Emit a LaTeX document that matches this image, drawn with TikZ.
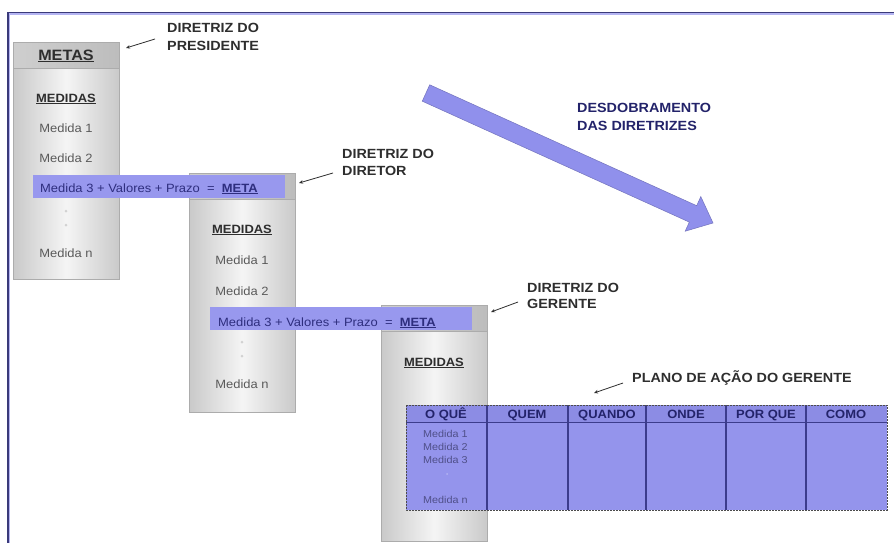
\documentclass[tikz,border=0pt]{standalone}
\usepackage{fontspec}
\setmainfont[FakeStretch=1.08]{Liberation Sans}
\usetikzlibrary{arrows.meta}
\definecolor{frameblue}{HTML}{3A3A7A}
\definecolor{framelight}{HTML}{B4B4F2}
\definecolor{lav}{HTML}{9898EE}
\definecolor{lavhead}{HTML}{8C8CE4}
\definecolor{tabfill}{HTML}{9494EC}
\definecolor{navy}{HTML}{23236A}
\definecolor{colline}{HTML}{3C3C8C}
\definecolor{lbltext}{HTML}{2E2E2E}
\definecolor{boxtext}{HTML}{5A5A5A}
\definecolor{bartext}{HTML}{2E2E7E}
\definecolor{bigarrow}{HTML}{9090EC}
\begin{document}
\begin{tikzpicture}[x=1pt,y=-1pt,
  boxbody/.style={draw=gray!65, line width=0.8pt, left color=gray!42, right color=gray!42, middle color=gray!8, inner sep=0pt, anchor=north west, minimum width=106pt},
  boxhead/.style={draw=gray!65, line width=0.8pt, left color=gray!38, right color=gray!52, inner sep=0pt, anchor=north west, minimum width=106pt, minimum height=26pt},
  barnode/.style={fill=lav, inner sep=0pt, anchor=north west, minimum height=23pt},
  bartxt/.style={font=\fontsize{12}{14}\selectfont, text=bartext, anchor=base west, inner sep=0pt},
  medtxt/.style={font=\fontsize{12}{14}\selectfont, text=boxtext, anchor=base, inner sep=0pt},
  medhead/.style={font=\fontsize{12}{14}\selectfont\bfseries, text=lbltext, anchor=base, inner sep=0pt},
  lbl/.style={font=\fontsize{13.3}{16}\selectfont\bfseries, text=lbltext, anchor=base west, inner sep=0pt},
  desd/.style={font=\fontsize{13.3}{16}\selectfont\bfseries, text=navy, anchor=base west, inner sep=0pt},
  lblarrow/.style={draw=lbltext, line width=0.8pt, -{Stealth[length=4pt,width=3.5pt]}},
  thdr/.style={font=\fontsize{12}{14}\selectfont\bfseries, text=navy, anchor=base, inner sep=0pt},
  tsmall/.style={font=\fontsize{10}{12}\selectfont, text=navy!80, anchor=base west, inner sep=0pt},
  gdot/.style={circle, fill=gray!35, inner sep=0pt, minimum size=3pt},
]
\useasboundingbox (0,0) rectangle (894,543);
\fill[white] (0,0) rectangle (894,543);
% frame
\draw[framelight, line width=1.5pt] (9.5,543) -- (9.5,14) -- (894,14);
\draw[frameblue, line width=1.5pt] (8,543) -- (8,12.5) -- (894,12.5);

% big arrow
\filldraw[fill=bigarrow, draw=bigarrow!80!black, line width=0.5pt]
  (422.3,101.2) -- (429.7,84.8) -- (696.7,205.7) -- (700.8,196.6) -- (713,223)
  -- (685.2,231.2) -- (689.3,222.1) -- cycle;
\node[desd] (d1) at (577,112) {DESDOBRAMENTO};
\node[desd] (d2) at (577,130) {DAS DIRETRIZES};

% box 1
\node[boxbody, minimum height=237pt] (b1) at (13,42) {};
\node[boxhead] (h1) at (13,42) {};
\node[font=\fontsize{15}{17}\selectfont\bfseries, text=lbltext, anchor=base, inner sep=0pt] (metas) at (66,60) {\underline{METAS}};
\node[medhead] (m1h) at (66,102) {\underline{MEDIDAS}};
\node[medtxt] (m11) at (66,132) {Medida 1};
\node[medtxt] (m12) at (66,162) {Medida 2};
\node[gdot] (m1d1) at (66,211) {};
\node[gdot] (m1d2) at (66,225) {};
\node[medtxt] (m1n) at (66,257) {Medida n};

% box 2
\node[boxbody, minimum height=239pt] (b2) at (189,173) {};
\node[boxhead] (h2) at (189,173) {};
\node[medhead] (m2h) at (242,233) {\underline{MEDIDAS}};
\node[medtxt] (m21) at (242,264) {Medida 1};
\node[medtxt] (m22) at (242,295) {Medida 2};
\node[gdot] (m2d1) at (242,342) {};
\node[gdot] (m2d2) at (242,356) {};
\node[medtxt] (m2n) at (242,388) {Medida n};

% box 3
\node[boxbody, minimum height=236pt] (b3) at (381,305) {};
\node[boxhead] (h3) at (381,305) {};
\node[medhead] (m3h) at (434,366) {\underline{MEDIDAS}};

% bars
\node[barnode, minimum width=252pt] (bar1) at (33,175) {};
\node[bartxt] (bar1t) at (40,192) {Medida 3 + Valores + Prazo \ = \ \textbf{\underline{META}}};
\node[barnode, minimum width=262pt] (bar2) at (210,307) {};
\node[bartxt] (bar2t) at (218,326) {Medida 3 + Valores + Prazo \ = \ \textbf{\underline{META}}};

% table
\node[fill=tabfill, inner sep=0pt, anchor=north west, minimum width=481pt, minimum height=105pt] (tbl) at (406,405) {};
\fill[lavhead] (406,405) rectangle (887,422);
\draw[colline, line width=1pt] (406,422) -- (887,422);
\foreach \cx in {487,568,646,726,806}{
  \draw[colline, line width=1.4pt] (\cx,405) -- (\cx,510);
}
\draw[gray!60!black, line width=0.8pt, dash pattern=on 2pt off 1pt] (406,405) rectangle (887,510);
\node[thdr] (c1) at (446,418) {O QUÊ};
\node[thdr] (c2) at (527,418) {QUEM};
\node[thdr] (c3) at (607,418) {QUANDO};
\node[thdr] (c4) at (686,418) {ONDE};
\node[thdr] (c5) at (766,418) {POR QUE};
\node[thdr] (c6) at (846,418) {COMO};
\node[tsmall] (t1) at (423,437) {Medida 1};
\node[tsmall] (t2) at (423,450) {Medida 2};
\node[tsmall] (t3) at (423,463) {Medida 3};
\node[circle, fill=tabfill!70!white, inner sep=0pt, minimum size=2pt] (tdot) at (447,474) {};
\node[tsmall] (tn) at (423,503) {Medida n};

% labels
\node[lbl] (l1a) at (167,33) {DIRETRIZ DO};
\node[lbl] (l1b) at (167,51) {PRESIDENTE};
\node[lbl] (l2a) at (342,158) {DIRETRIZ DO};
\node[lbl] (l2b) at (342,175) {DIRETOR};
\node[lbl] (l3a) at (527,292) {DIRETRIZ DO};
\node[lbl] (l3b) at (527,308) {GERENTE};
\node[lbl] (l4) at (632,382) {PLANO DE AÇÃO DO GERENTE};

\coordinate (a1s) at (155,39); \coordinate (a1e) at (126,48);
\coordinate (a2s) at (333,173); \coordinate (a2e) at (299,183);
\coordinate (a3s) at (518,302); \coordinate (a3e) at (491,312);
\coordinate (a4s) at (623,383); \coordinate (a4e) at (594,393);
\draw[lblarrow] (a1s) -- (a1e);
\draw[lblarrow] (a2s) -- (a2e);
\draw[lblarrow] (a3s) -- (a3e);
\draw[lblarrow] (a4s) -- (a4e);
\end{tikzpicture}
\end{document}
